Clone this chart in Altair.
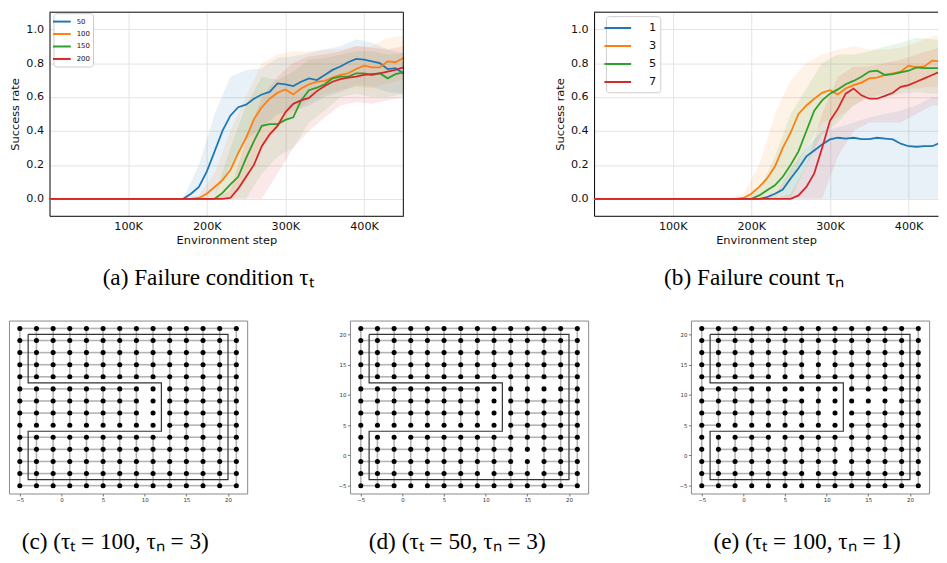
import altair as alt
import pandas as pd

# ---------------- curve data (steps in thousands) ----------------
LINE_K = [0, 170, 180, 190, 200, 210, 220, 230, 240, 250, 260, 270, 280, 290, 300,
          310, 320, 330, 340, 350, 360, 370, 380, 390, 400, 410, 420, 430, 440, 450]
BAND_K = [0, 170, 190, 210, 230, 250, 270, 290, 310, 330, 350, 370, 390, 410, 430, 450]

A_SERIES = ["50", "100", "150", "200"]
B_SERIES = ["1", "3", "5", "7"]
COLORS = ["#1f77b4", "#ff7f0e", "#2ca02c", "#d62728"]

A_50 = [0, 0, 0.03, 0.07, 0.16, 0.28, 0.40, 0.49, 0.54, 0.555, 0.59, 0.615, 0.63, 0.68, 0.675,
        0.665, 0.69, 0.71, 0.70, 0.73, 0.76, 0.78, 0.805, 0.825, 0.82, 0.81, 0.80, 0.765, 0.77, 0.74]
A_100 = [0, 0, 0, 0.005, 0.03, 0.07, 0.11, 0.17, 0.27, 0.36, 0.47, 0.54, 0.59, 0.625, 0.645,
         0.615, 0.65, 0.675, 0.69, 0.695, 0.715, 0.73, 0.74, 0.765, 0.785, 0.775, 0.775, 0.81, 0.805, 0.83]
A_150 = [0, 0, 0, 0, 0, 0, 0.035, 0.085, 0.13, 0.24, 0.34, 0.43, 0.44, 0.44, 0.465,
         0.48, 0.58, 0.64, 0.655, 0.675, 0.71, 0.72, 0.72, 0.74, 0.74, 0.73, 0.74, 0.71, 0.735, 0.745]
A_200 = [0, 0, 0, 0, 0, 0, 0, 0.005, 0.06, 0.13, 0.2, 0.31, 0.38, 0.43, 0.51,
         0.56, 0.58, 0.595, 0.635, 0.665, 0.69, 0.705, 0.715, 0.72, 0.73, 0.735, 0.74, 0.75, 0.76, 0.775]

A_50_LO = [0, 0, 0, 0.02, 0.2, 0.35, 0.42, 0.5, 0.52, 0.55, 0.6, 0.63, 0.67, 0.66, 0.63, 0.62]
A_50_HI = [0, 0, 0.2, 0.5, 0.72, 0.76, 0.77, 0.83, 0.84, 0.86, 0.88, 0.9, 0.94, 0.92, 0.88, 0.86]
A_100_LO = [0, 0, 0, 0, 0, 0.1, 0.3, 0.42, 0.5, 0.58, 0.62, 0.64, 0.66, 0.65, 0.68, 0.7]
A_100_HI = [0, 0, 0.02, 0.15, 0.4, 0.6, 0.8, 0.85, 0.87, 0.87, 0.88, 0.88, 0.9, 0.9, 0.95, 0.96]
A_150_LO = [0, 0, 0, 0, 0, 0, 0.15, 0.25, 0.3, 0.45, 0.52, 0.6, 0.62, 0.6, 0.6, 0.62]
A_150_HI = [0, 0, 0, 0.02, 0.3, 0.55, 0.72, 0.7, 0.75, 0.82, 0.83, 0.85, 0.87, 0.87, 0.85, 0.86]
A_200_LO = [0, 0, 0, 0, 0, 0, 0, 0.15, 0.3, 0.4, 0.48, 0.55, 0.57, 0.56, 0.58, 0.6]
A_200_HI = [0, 0, 0, 0, 0.05, 0.35, 0.6, 0.72, 0.8, 0.84, 0.85, 0.87, 0.9, 0.89, 0.88, 0.9]

B_1 = [0, 0, 0, 0, 0, 0, 0.01, 0.03, 0.055, 0.12, 0.18, 0.25, 0.285, 0.32, 0.35,
       0.36, 0.355, 0.36, 0.352, 0.352, 0.36, 0.355, 0.35, 0.325, 0.31, 0.307, 0.31, 0.31, 0.33, 0.33]
B_3 = [0, 0, 0, 0.005, 0.03, 0.07, 0.12, 0.19, 0.3, 0.39, 0.5, 0.55, 0.59, 0.625, 0.64,
       0.615, 0.65, 0.67, 0.685, 0.71, 0.715, 0.73, 0.74, 0.75, 0.785, 0.775, 0.78, 0.815, 0.81, 0.8]
B_5 = [0, 0, 0, 0, 0, 0.02, 0.05, 0.08, 0.13, 0.2, 0.28, 0.4, 0.52, 0.58, 0.62,
       0.645, 0.675, 0.695, 0.72, 0.75, 0.755, 0.73, 0.735, 0.745, 0.755, 0.775, 0.77, 0.77, 0.77, 0.77]
B_7 = [0, 0, 0, 0, 0, 0, 0, 0, 0, 0, 0.02, 0.07, 0.15, 0.3, 0.46,
       0.53, 0.62, 0.65, 0.61, 0.59, 0.59, 0.607, 0.625, 0.66, 0.67, 0.69, 0.71, 0.73, 0.75, 0.76]

B_1_LO = [0, 0, 0, 0, 0, 0, 0, 0, 0, 0, 0, 0, 0, 0, 0, 0]
B_1_HI = [0, 0, 0, 0, 0.02, 0.18, 0.3, 0.4, 0.42, 0.45, 0.48, 0.5, 0.52, 0.55, 0.6, 0.6]
B_3_LO = [0, 0, 0, 0, 0, 0.1, 0.3, 0.45, 0.48, 0.55, 0.6, 0.62, 0.65, 0.65, 0.66, 0.66]
B_3_HI = [0, 0, 0.03, 0.2, 0.5, 0.7, 0.8, 0.85, 0.88, 0.9, 0.88, 0.88, 0.89, 0.92, 0.96, 0.96]
B_5_LO = [0, 0, 0, 0, 0, 0, 0.2, 0.38, 0.45, 0.55, 0.6, 0.6, 0.62, 0.63, 0.62, 0.62]
B_5_HI = [0, 0, 0, 0.05, 0.25, 0.5, 0.65, 0.8, 0.85, 0.85, 0.87, 0.9, 0.92, 0.95, 0.94, 0.93]
B_7_LO = [0, 0, 0, 0, 0, 0, 0, 0, 0.25, 0.4, 0.45, 0.45, 0.45, 0.5, 0.55, 0.55]
B_7_HI = [0, 0, 0, 0, 0, 0.03, 0.2, 0.5, 0.72, 0.78, 0.78, 0.8, 0.82, 0.85, 0.88, 0.9]

X_TICKS = [100000, 200000, 300000, 400000]
Y_TICKS = [0, 0.2, 0.4, 0.6, 0.8, 1.0]

CAPTIONS = ["(a) Failure condition τₜ", "(b) Failure count τₙ",
            "(c) (τₜ = 100, τₙ = 3)", "(d) (τₜ = 50, τₙ = 3)", "(e) (τₜ = 100, τₙ = 1)"]

# ---------------- graph data ----------------
NODE_X = [-5, -3, -1, 1, 3, 5, 7, 9, 11, 13, 15, 17, 19, 21]
NODE_Y = [21, 19, 17, 15, 13, 11, 9, 7, 5, 3, 1, -1, -3, -5]
WALL_X = [-4, 20, 20, -4, -4, 12, 12, -4, -4]
WALL_Y = [20, 20, -4, -4, 4, 4, 12, 12, 20]
G_TICKS = [-5, 0, 5, 10, 15, 20]

# horizontal edge flags: one string per row (top to bottom), char k = edge between column k and k+1
C_H = ["1111111111111", "1111111111111", "1111111111111", "1111111111111",
       "1111111111111", "1111111001111", "1111111001111", "1111111001111",
       "0000000001111", "1111111111111", "1111111111111", "1111111111111",
       "1111111111111", "1111111111111"]
# vertical edge flags: one string per column (left to right), char k = edge between row k and k+1
C_V = ["1111111111111", "1111011101111", "1111011101111", "1111011101111",
       "1111011101111", "1111011101111", "1111011101111", "1111011101111",
       "1111000001111", "1111111111111", "1111111111111", "1111111111111",
       "1111111111111", "1111111111111"]

D_H = ["1111111111111", "1111111111111", "1111111111111", "1111111111111",
       "1111111111111", "1111111000001", "1111111001111", "1111111001111",
       "0000000001111", "0001111111111", "1111111110011", "1111111110011",
       "1111111011011", "1100111111111"]
D_V = ["1111111111111", "1111011101111", "1111011101111", "1111011101111",
       "1111011101111", "1111011101111", "1111011101111", "1111011101111",
       "1111000001111", "1111111111111", "1111111111011", "1111001111111",
       "1111111111111", "1111111111111"]

E_H = ["1111111111111", "1111111111111", "1111111111111", "1111110011111",
       "1111001111111", "1110000001111", "1111110000001", "1111111001111",
       "1000000001111", "0011011111111", "0111101101111", "1111111101111",
       "1111110111111", "1100000111111"]
E_V = ["1111111111111", "1111011101111", "1111011101111", "1111011101111",
       "1111011101111", "1111001101111", "1111001101111", "1111011101111",
       "1111000001111", "1111100011111", "1111100111111", "1111101111111",
       "1111111111111", "1111111111111"]

FONT = "DejaVu Sans"
SERIF = "Liberation Serif"
PLOT_H = 206


def curve_panel(names, means, los, his, xmax, inset, width, caption, dx, legend, right_edge):
    xs = alt.Scale(domain=[0, xmax], range=[inset, width], nice=False, zero=False)
    ys = alt.Scale(domain=[-0.1, 1.1], nice=False, zero=False)
    cs = alt.Scale(domain=names, range=COLORS)
    xaxis = alt.Axis(values=X_TICKS, labelExpr="format(datum.value/1000,'d')+'K'",
                     title="Environment step", labelFont=FONT, titleFont=FONT,
                     labelFontSize=11.3, titleFontSize=11.5, titleFontWeight="normal",
                     labelColor="#111", titleColor="#111", ticks=False, tickSize=0,
                     labelPadding=5, titlePadding=3, gridColor="#e4e4e4",
                     domain=True, domainColor="black", labelFlush=False)
    yaxis = alt.Axis(values=Y_TICKS, format=".1f", title="Success rate",
                     labelFont=FONT, titleFont=FONT, labelFontSize=11.3, titleFontSize=11.5,
                     titleFontWeight="normal", labelColor="#111", titleColor="#111",
                     ticks=False, tickSize=0, labelPadding=6, titlePadding=5, offset=-inset,
                     gridColor="#e4e4e4", domain=True, domainColor="black")
    X = alt.X("step:Q", scale=xs, axis=xaxis)
    layers = []
    # shaded bands, one per series
    for name, lo, hi, col in zip(names, los, his, COLORS):
        band_df = pd.DataFrame({"step": [k * 1000 for k in BAND_K], "lo": lo, "hi": hi})
        layers.append(alt.Chart(band_df).mark_area(opacity=0.1, color=col, clip=True).encode(
            x=X, y=alt.Y("lo:Q", scale=ys, axis=yaxis), y2=alt.Y2("hi:Q")))
    # mean curves
    line_rows = []
    for name, vals in zip(names, means):
        for k, v in zip(LINE_K, vals):
            line_rows.append({"step": k * 1000, "rate": v, "series": name})
    line_df = pd.DataFrame(line_rows)
    layers.append(alt.Chart(line_df).mark_line(strokeWidth=1.8, clip=True).encode(
        x=X, y=alt.Y("rate:Q", scale=ys, axis=yaxis),
        color=alt.Color("series:N", scale=cs, sort=names, legend=legend)))
    # frame: top edge (and right edge when the panel is not cut off)
    frame_df = pd.DataFrame({"edge": ["frame"]})
    layers.append(alt.Chart(frame_df).mark_rule(color="black", strokeWidth=1).encode(
        x=alt.value(inset), x2=alt.value(width), y=alt.value(0)))
    if right_edge:
        layers.append(alt.Chart(frame_df).mark_rule(color="black", strokeWidth=1).encode(
            x=alt.value(width), y=alt.value(0), y2=alt.value(PLOT_H)))
    return alt.layer(*layers).properties(
        width=width, height=PLOT_H,
        view=alt.ViewBackground(stroke="transparent"),
        title=alt.TitleParams(caption, orient="bottom", anchor="middle", font=SERIF,
                              fontSize=23.5, fontWeight="normal", color="black",
                              offset=20, dx=dx))


def graph_panel(hflags, vflags, caption, dx, show_y):
    edge_rows = []
    for j, flags in enumerate(hflags):
        for k, f in enumerate(flags):
            if f == "1":
                edge_rows.append({"x": NODE_X[k], "y": NODE_Y[j],
                                  "x2": NODE_X[k + 1], "y2": NODE_Y[j]})
    for i, flags in enumerate(vflags):
        for k, f in enumerate(flags):
            if f == "1":
                edge_rows.append({"x": NODE_X[i], "y": NODE_Y[k],
                                  "x2": NODE_X[i], "y2": NODE_Y[k + 1]})
    edge_df = pd.DataFrame(edge_rows)
    node_df = pd.DataFrame([{"x": x, "y": y} for y in NODE_Y for x in NODE_X])
    wall_df = pd.DataFrame({"x": WALL_X, "y": WALL_Y, "i": list(range(len(WALL_X)))})

    xs = alt.Scale(domain=[-6.3, 22.3], nice=False, zero=False)
    ys = alt.Scale(domain=[-6.3, 22.3], nice=False, zero=False)
    common = dict(values=G_TICKS, title=None, grid=False, domain=False, labelFont=FONT,
                  labelFontSize=5.5, labelColor="#333", tickColor="#555", tickSize=2.5,
                  tickWidth=0.8, labelPadding=1.5, labelFlush=False)
    xaxis = alt.Axis(**common)
    yaxis = alt.Axis(**common) if show_y else None
    X = alt.X("x:Q", scale=xs, axis=xaxis)
    Y = alt.Y("y:Q", scale=ys, axis=yaxis)
    edges = alt.Chart(edge_df).mark_rule(color="#b4b4b4", strokeWidth=1.6).encode(
        x=X, y=Y, x2=alt.X2("x2:Q"), y2=alt.Y2("y2:Q"))
    walls = alt.Chart(wall_df).mark_line(color="#333333", strokeWidth=1.2).encode(
        x=X, y=Y, order=alt.Order("i:Q"))
    nodes = alt.Chart(node_df).mark_circle(color="black", size=26, opacity=1).encode(x=X, y=Y)
    return alt.layer(edges, walls, nodes).properties(
        width=241, height=175,
        view=alt.ViewBackground(stroke="#8a8a8a", strokeWidth=1),
        title=alt.TitleParams(caption, orient="bottom", anchor="middle", font=SERIF,
                              fontSize=23.5, fontWeight="normal", color="black",
                              offset=28, dx=dx))


LEGEND_LINE = "M-2,0H2"
legend_a = alt.Legend(title=None, orient="none", legendX=45, legendY=1, labelFont=FONT,
                      labelFontSize=7, labelColor="#111", symbolType=LEGEND_LINE,
                      symbolStrokeWidth=2, symbolSize=81, labelOffset=9.5, rowPadding=2.6,
                      padding=3, strokeColor="#cccccc", fillColor="white", cornerRadius=3)
legend_b = alt.Legend(title=None, orient="none", legendX=12, legendY=4, labelFont=FONT,
                      labelFontSize=11.5, labelColor="#111", symbolType=LEGEND_LINE,
                      symbolStrokeWidth=2, symbolSize=182, labelOffset=23.5, rowPadding=4.2,
                      padding=4, strokeColor="#cccccc", fillColor="white", cornerRadius=3)

panel_a = curve_panel(A_SERIES, [A_50, A_100, A_150, A_200],
                      [A_50_LO, A_100_LO, A_150_LO, A_200_LO],
                      [A_50_HI, A_100_HI, A_150_HI, A_200_HI],
                      450000, 41, 399, CAPTIONS[0], 2, legend_a, True)
panel_b = curve_panel(B_SERIES, [B_1, B_3, B_5, B_7],
                      [B_1_LO, B_3_LO, B_5_LO, B_7_LO],
                      [B_1_HI, B_3_HI, B_5_HI, B_7_HI],
                      437400, 0, 348, CAPTIONS[1], -12, legend_b, False)

panel_c = graph_panel(C_H, C_V, CAPTIONS[2], -13, False)
panel_d = graph_panel(D_H, D_V, CAPTIONS[3], -12, True)
panel_e = graph_panel(E_H, E_V, CAPTIONS[4], -3, True)

top_row = alt.hconcat(panel_a, panel_b, spacing=151).resolve_scale(
    color="independent").resolve_legend(color="independent")
bottom_row = alt.hconcat(panel_c, panel_d, panel_e, spacing=90)

chart = alt.vconcat(top_row, bottom_row, spacing=30).properties(
    padding=0, background="white"
).configure_view(strokeWidth=1)

chart.save("out.html", embed_options={"renderer": "svg", "actions": False})
